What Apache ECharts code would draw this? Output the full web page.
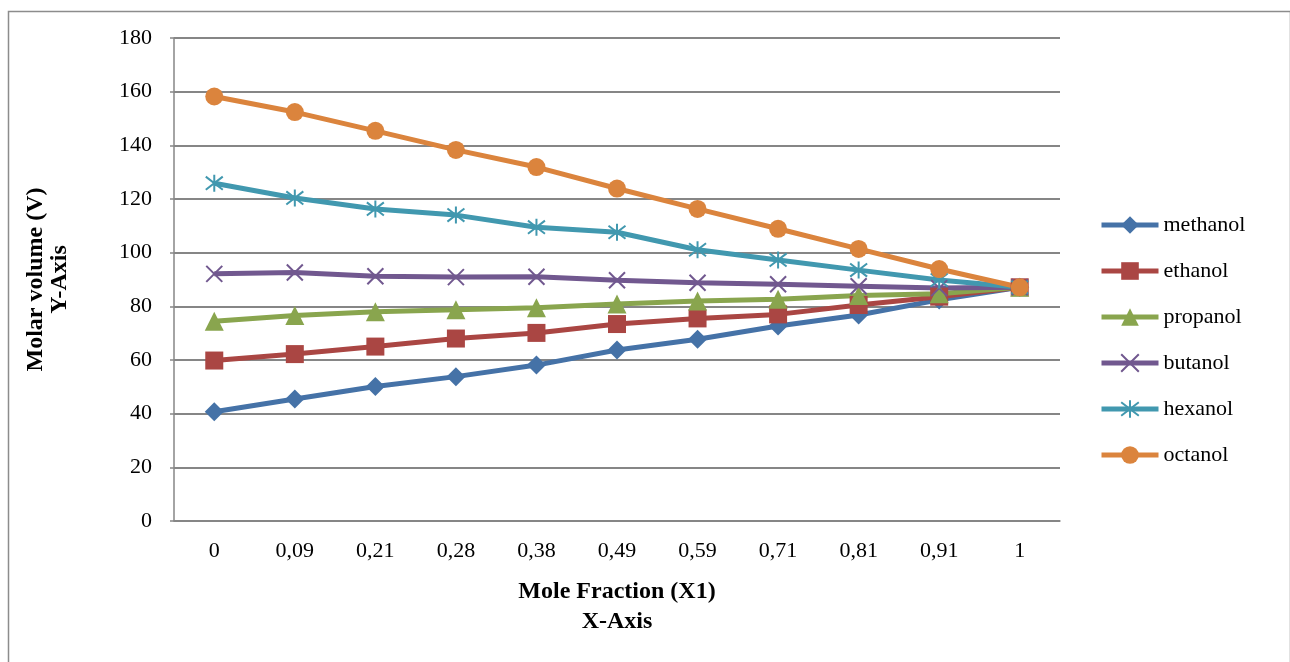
<!DOCTYPE html>
<html>
<head>
<meta charset="utf-8">
<script src="https://cdn.jsdelivr.net/npm/echarts@6/dist/echarts.min.js"></script>
<style>html,body{margin:0;padding:0;background:#fff;}#c{width:1290px;height:662px;}</style>
</head>
<body>
<div id="c"></div>
<script>
var categories = ['0', '0,09', '0,21', '0,28', '0,38', '0,49', '0,59', '0,71', '0,81', '0,91', '1'];
var methanol = [40.7, 45.5, 50.1, 53.8, 58.1, 63.7, 67.7, 72.7, 76.8, 82.4, 87.1];
var ethanol  = [59.8, 62.2, 65.0, 68.0, 70.1, 73.4, 75.5, 77.0, 80.5, 83.6, 87.1];
var propanol = [74.4, 76.6, 78.0, 78.7, 79.5, 80.9, 82.0, 82.6, 84.0, 84.7, 87.1];
var butanol  = [92.1, 92.6, 91.2, 90.9, 91.0, 89.7, 88.8, 88.2, 87.5, 86.8, 87.1];
var hexanol  = [125.9, 120.4, 116.3, 114.0, 109.5, 107.6, 101.1, 97.3, 93.5, 89.8, 87.1];
var octanol  = [158.2, 152.4, 145.4, 138.3, 131.9, 123.9, 116.3, 108.9, 101.4, 93.9, 87.1];
var yTicks = { min: 0, max: 180, interval: 20 };

var FONT = 'Liberation Serif';
var xPath = 'path://M0,0L10,10M10,0L0,10';
var starPath = 'path://M0,0L10,10M10,0L0,10M5,-1.5L5,11.5';

function mk(name, data, color, symbol, size, stroke) {
  return {
    name: name, type: 'line', data: data,
    symbol: symbol, symbolSize: size,
    lineStyle: { color: color, width: 5 },
    itemStyle: stroke ? { color: color, borderColor: color, borderWidth: 2 } : { color: color },
    emphasis: { disabled: true },
    animation: false
  };
}

var chart = echarts.init(document.getElementById('c'), null, { renderer: 'canvas' });
chart.setOption({
  backgroundColor: '#fff',
  animation: false,
  graphic: [{
    type: 'rect', left: 6, top: 9, silent: true,
    shape: { x: 0, y: 0, width: 1282, height: 700 },
    style: { fill: 'none', stroke: '#8c8c8c', lineWidth: 1.5 }
  }],
  grid: { left: 174, right: 230, top: 38, bottom: 141 },
  legend: {
    orient: 'vertical', left: 1094, top: 209,
    itemWidth: 57, itemHeight: 22, itemGap: 24,
    lineStyle: { width: 5 },
    textStyle: { fontFamily: FONT, fontSize: 22, color: '#000' },
    data: ['methanol', 'ethanol', 'propanol', 'butanol', 'hexanol', 'octanol']
  },
  xAxis: {
    type: 'category', data: categories, boundaryGap: true,
    name: 'Mole Fraction (X1)\nX-Axis', nameLocation: 'middle', nameGap: 56,
    nameTextStyle: { fontFamily: FONT, fontSize: 24, fontWeight: 'bold', color: '#000', lineHeight: 30 },
    axisLine: { show: true, lineStyle: { color: '#868686', width: 1.5 } },
    axisTick: { show: false },
    axisLabel: { fontFamily: FONT, fontSize: 22, color: '#000', margin: 19 },
    splitLine: { show: false }
  },
  yAxis: {
    type: 'value', min: yTicks.min, max: yTicks.max, interval: yTicks.interval,
    name: 'Molar volume (V)\nY-Axis', nameLocation: 'middle', nameGap: 102,
    nameTextStyle: { fontFamily: FONT, fontSize: 24, fontWeight: 'bold', color: '#000', lineHeight: 24 },
    axisLine: { show: true, lineStyle: { color: '#868686', width: 1.5 } },
    axisTick: { show: true, length: 4, lineStyle: { color: '#868686', width: 1.5 } },
    axisLabel: { fontFamily: FONT, fontSize: 22, color: '#000', margin: 22 },
    splitLine: { show: true, lineStyle: { color: '#868686', width: 2 } }
  },
  series: [
    mk('methanol', methanol, '#4572A7', 'diamond', 19, false),
    mk('ethanol', ethanol, '#AA4643', 'rect', 18, false),
    mk('propanol', propanol, '#89A54E', 'triangle', 19, false),
    mk('butanol', butanol, '#71588F', xPath, 16, true),
    mk('hexanol', hexanol, '#4198AF', starPath, 17, true),
    mk('octanol', octanol, '#DB843D', 'circle', 18, false)
  ]
});
</script>
</body>
</html>
